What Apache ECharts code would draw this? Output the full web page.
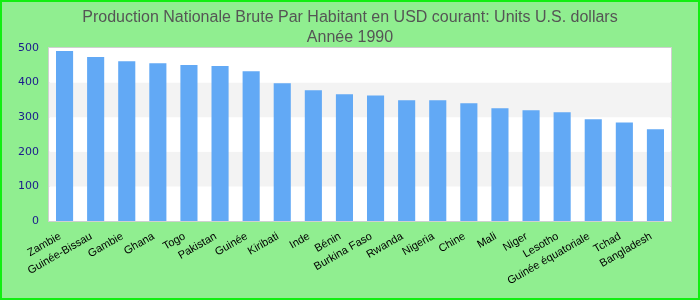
<!DOCTYPE html>
<html><head><meta charset="utf-8">
<script src="https://cdn.jsdelivr.net/npm/echarts@6/dist/echarts.min.js"></script>
<style>html,body{margin:0;padding:0;background:#90EE90}
#wrap{position:relative;width:700px;height:300px}
#c{width:700px;height:300px}
#b{position:absolute;left:0;top:0;width:700px;height:300px;box-sizing:border-box;border:2px solid #11ee11;pointer-events:none}</style>
</head><body><div id="wrap"><div id="c"></div><div id="b"></div></div>
<script>
var categories = ['Zambie','Guinée-Bissau','Gambie','Ghana','Togo','Pakistan','Guinée','Kiribati','Inde','Bénin','Burkina Faso','Rwanda','Nigeria','Chine','Mali','Niger','Lesotho','Guinée équatoriale','Tchad','Bangladesh'];
var values = [491,474,462,456,451,448,433,398,378,366,363,349,349,340,326,320,314,294,285,265];
var yTicks = [0,100,200,300,400,500];
var titleText = 'Production Nationale Brute Par Habitant en USD courant: Units U.S. dollars\nAnnée 1990';

var chart = echarts.init(document.getElementById('c'), null, {renderer:'canvas'});
chart.setOption({
  backgroundColor: '#90EE90',
  animation: false,
  title: {
    text: titleText, left: 'center', top: 3,
    textStyle: {fontFamily: 'Liberation Sans, Arial, sans-serif', fontSize: 16, fontWeight: 'normal', color: '#555555', lineHeight: 20}
  },
  grid: {left: 49, right: 29, top: 48, bottom: 79, show: true, backgroundColor: '#ffffff', borderColor: '#d0d0d0', borderWidth: 2},
  xAxis: {
    type: 'category', data: categories,
    axisLine: {show: false}, axisTick: {show: false},
    axisLabel: {interval: 0, rotate: 30, margin: 12, padding: [0, 5, 0, 0], color: '#000000', fontSize: 11, fontFamily: 'Liberation Sans, Arial, sans-serif'}
  },
  yAxis: {
    type: 'value', min: yTicks[0], max: yTicks[yTicks.length-1], interval: 100,
    axisLine: {show: false}, axisTick: {show: false},
    splitLine: {show: false},
    splitArea: {show: true, areaStyle: {color: ['#ffffff', '#f3f3f3']}},
    axisLabel: {color: '#1a1a8c', fontSize: 11, margin: 10, fontFamily: 'DejaVu Sans, sans-serif'}
  },
  series: [{
    type: 'bar', data: values, barWidth: '55%',
    itemStyle: {color: '#62a9f5'}
  }]
});
</script></body></html>
